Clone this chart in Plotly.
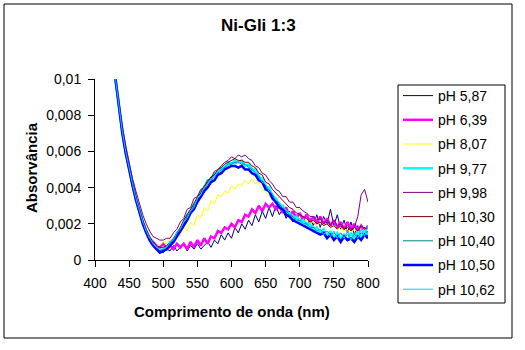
import plotly.graph_objects as go

# Wavelength grid (nm)
wavelength = [
    430, 435, 440, 445, 450, 455, 460, 465, 470, 475,
    480, 485, 490, 495, 500, 505, 510, 515, 520, 525,
    530, 535, 540, 545, 550, 555, 560, 565, 570, 575,
    580, 585, 590, 595, 600, 605, 610, 615, 620, 625,
    630, 635, 640, 645, 650, 655, 660, 665, 670, 675,
    680, 685, 690, 695, 700, 705, 710, 715, 720, 725,
    730, 735, 740, 745, 750, 755, 760, 765, 770, 775,
    780, 785, 790, 795, 800,
]

ph_5_87 = [
    0.0100, 0.0085, 0.0072, 0.0061, 0.0050, 0.0041, 0.0033, 0.0026, 0.0020, 0.0015,
    0.0011, 0.0008, 0.0006, 0.0005, 0.0004, 0.0006, 0.0005, 0.0008, 0.0005, 0.0007,
    0.0009, 0.0005, 0.0008, 0.0006, 0.0009, 0.0006, 0.0008, 0.0010, 0.0007, 0.0011,
    0.0009, 0.0014, 0.0011, 0.0015, 0.0012, 0.0018, 0.0015, 0.0020, 0.0017, 0.0022,
    0.0019, 0.0025, 0.0021, 0.0027, 0.0023, 0.0029, 0.0024, 0.0030, 0.0025, 0.0028,
    0.0023, 0.0027, 0.0021, 0.0025, 0.0020, 0.0024, 0.0018, 0.0023, 0.0019, 0.0025,
    0.0018, 0.0024, 0.0020, 0.0028, 0.0019, 0.0025, 0.0017, 0.0022, 0.0015, 0.0021,
    0.0014, 0.0019, 0.0012, 0.0018, 0.0013,
]
ph_6_39 = [
    0.0100, 0.0085, 0.0072, 0.0061, 0.0051, 0.0042, 0.0034, 0.0027, 0.0021, 0.0016,
    0.0012, 0.0010, 0.0008, 0.0007, 0.0009, 0.0006, 0.0008, 0.0006, 0.0009, 0.0007,
    0.0009, 0.0006, 0.0010, 0.0007, 0.0011, 0.0008, 0.0012, 0.0009, 0.0013, 0.0012,
    0.0016, 0.0015, 0.0018, 0.0017, 0.0020, 0.0018, 0.0022, 0.0021, 0.0025, 0.0024,
    0.0028, 0.0026, 0.0030, 0.0027, 0.0031, 0.0029, 0.0031, 0.0028, 0.0030, 0.0026,
    0.0029, 0.0024, 0.0027, 0.0023, 0.0026, 0.0022, 0.0025, 0.0021, 0.0024, 0.0020,
    0.0024, 0.0020, 0.0023, 0.0019, 0.0022, 0.0018, 0.0021, 0.0017, 0.0021, 0.0017,
    0.0020, 0.0016, 0.0019, 0.0016, 0.0019,
]
ph_8_07 = [
    0.0100, 0.0084, 0.0071, 0.0059, 0.0049, 0.0041, 0.0033, 0.0026, 0.0020, 0.0015,
    0.0011, 0.0009, 0.0008, 0.0008, 0.0010, 0.0009, 0.0012, 0.0010, 0.0014, 0.0013,
    0.0018, 0.0016, 0.0021, 0.0019, 0.0025, 0.0023, 0.0029, 0.0027, 0.0033, 0.0031,
    0.0036, 0.0035, 0.0038, 0.0037, 0.0041, 0.0039, 0.0042, 0.0041, 0.0044, 0.0042,
    0.0045, 0.0042, 0.0043, 0.0039, 0.0038, 0.0035, 0.0034, 0.0031, 0.0030, 0.0027,
    0.0027, 0.0025, 0.0025, 0.0023, 0.0023, 0.0021, 0.0022, 0.0019, 0.0022, 0.0018,
    0.0021, 0.0019, 0.0020, 0.0018, 0.0019, 0.0017, 0.0018, 0.0016, 0.0017, 0.0015,
    0.0017, 0.0015, 0.0016, 0.0015, 0.0017,
]
ph_9_77 = [
    0.0100, 0.0084, 0.0071, 0.0060, 0.0050, 0.0042, 0.0034, 0.0027, 0.0021, 0.0016,
    0.0012, 0.0009, 0.0006, 0.0005, 0.0006, 0.0006, 0.0010, 0.0010, 0.0015, 0.0016,
    0.0021, 0.0025, 0.0027, 0.0031, 0.0033, 0.0038, 0.0040, 0.0044, 0.0044, 0.0048,
    0.0048, 0.0051, 0.0051, 0.0054, 0.0053, 0.0055, 0.0054, 0.0055, 0.0052, 0.0053,
    0.0050, 0.0050, 0.0046, 0.0045, 0.0040, 0.0040, 0.0035, 0.0034, 0.0030, 0.0030,
    0.0026, 0.0026, 0.0023, 0.0024, 0.0021, 0.0022, 0.0019, 0.0020, 0.0016, 0.0018,
    0.0015, 0.0017, 0.0013, 0.0016, 0.0012, 0.0015, 0.0012, 0.0014, 0.0011, 0.0015,
    0.0012, 0.0016, 0.0012, 0.0017, 0.0014,
]
ph_9_98 = [
    0.0100, 0.0086, 0.0074, 0.0063, 0.0053, 0.0045, 0.0038, 0.0031, 0.0025, 0.0020,
    0.0016, 0.0013, 0.0012, 0.0011, 0.0011, 0.0012, 0.0012, 0.0015, 0.0017, 0.0021,
    0.0023, 0.0028, 0.0029, 0.0034, 0.0035, 0.0039, 0.0040, 0.0044, 0.0045, 0.0049,
    0.0050, 0.0052, 0.0054, 0.0055, 0.0057, 0.0056, 0.0058, 0.0057, 0.0058, 0.0056,
    0.0055, 0.0052, 0.0051, 0.0048, 0.0047, 0.0044, 0.0042, 0.0039, 0.0038, 0.0035,
    0.0035, 0.0032, 0.0032, 0.0029, 0.0029, 0.0027, 0.0026, 0.0024, 0.0024, 0.0022,
    0.0023, 0.0020, 0.0022, 0.0019, 0.0022, 0.0019, 0.0020, 0.0017, 0.0019, 0.0017,
    0.0018, 0.0024, 0.0036, 0.0039, 0.0032,
]
ph_10_30 = [
    0.0100, 0.0085, 0.0072, 0.0061, 0.0051, 0.0043, 0.0035, 0.0028, 0.0022, 0.0017,
    0.0013, 0.0010, 0.0008, 0.0007, 0.0007, 0.0008, 0.0010, 0.0012, 0.0015, 0.0018,
    0.0022, 0.0025, 0.0028, 0.0031, 0.0035, 0.0037, 0.0041, 0.0043, 0.0046, 0.0047,
    0.0050, 0.0051, 0.0053, 0.0054, 0.0055, 0.0056, 0.0055, 0.0055, 0.0054, 0.0054,
    0.0052, 0.0051, 0.0048, 0.0047, 0.0043, 0.0042, 0.0039, 0.0037, 0.0035, 0.0033,
    0.0031, 0.0029, 0.0028, 0.0026, 0.0025, 0.0024, 0.0023, 0.0021, 0.0022, 0.0020,
    0.0021, 0.0019, 0.0020, 0.0018, 0.0019, 0.0017, 0.0019, 0.0017, 0.0018, 0.0016,
    0.0018, 0.0016, 0.0019, 0.0017, 0.0018,
]
ph_10_40 = [
    0.0100, 0.0084, 0.0071, 0.0060, 0.0050, 0.0042, 0.0034, 0.0027, 0.0021, 0.0016,
    0.0012, 0.0009, 0.0007, 0.0005, 0.0006, 0.0007, 0.0009, 0.0012, 0.0014, 0.0018,
    0.0020, 0.0024, 0.0026, 0.0030, 0.0033, 0.0036, 0.0039, 0.0042, 0.0044, 0.0046,
    0.0048, 0.0050, 0.0051, 0.0053, 0.0053, 0.0054, 0.0054, 0.0053, 0.0053, 0.0051,
    0.0050, 0.0048, 0.0046, 0.0043, 0.0041, 0.0038, 0.0036, 0.0033, 0.0031, 0.0028,
    0.0027, 0.0025, 0.0024, 0.0022, 0.0022, 0.0020, 0.0020, 0.0018, 0.0018, 0.0016,
    0.0017, 0.0015, 0.0016, 0.0014, 0.0015, 0.0013, 0.0015, 0.0013, 0.0014, 0.0012,
    0.0014, 0.0013, 0.0015, 0.0014, 0.0016,
]
ph_10_50 = [
    0.0100, 0.0084, 0.0070, 0.0059, 0.0049, 0.0041, 0.0033, 0.0026, 0.0020, 0.0015,
    0.0011, 0.0008, 0.0006, 0.0004, 0.0005, 0.0006, 0.0008, 0.0010, 0.0013, 0.0016,
    0.0019, 0.0022, 0.0026, 0.0028, 0.0032, 0.0035, 0.0038, 0.0040, 0.0043, 0.0044,
    0.0047, 0.0048, 0.0050, 0.0051, 0.0052, 0.0052, 0.0051, 0.0052, 0.0050, 0.0050,
    0.0048, 0.0047, 0.0044, 0.0043, 0.0039, 0.0038, 0.0034, 0.0032, 0.0029, 0.0028,
    0.0025, 0.0024, 0.0022, 0.0021, 0.0020, 0.0019, 0.0018, 0.0017, 0.0016, 0.0015,
    0.0014, 0.0015, 0.0012, 0.0014, 0.0011, 0.0013, 0.0010, 0.0013, 0.0011, 0.0012,
    0.0010, 0.0013, 0.0011, 0.0014, 0.0012,
]
ph_10_62 = [
    0.0100, 0.0084, 0.0071, 0.0060, 0.0050, 0.0042, 0.0034, 0.0027, 0.0021, 0.0016,
    0.0012, 0.0009, 0.0007, 0.0006, 0.0006, 0.0007, 0.0010, 0.0011, 0.0015, 0.0017,
    0.0021, 0.0023, 0.0027, 0.0029, 0.0034, 0.0036, 0.0040, 0.0042, 0.0045, 0.0046,
    0.0049, 0.0049, 0.0052, 0.0052, 0.0054, 0.0053, 0.0054, 0.0054, 0.0053, 0.0052,
    0.0051, 0.0048, 0.0047, 0.0043, 0.0042, 0.0038, 0.0037, 0.0033, 0.0032, 0.0029,
    0.0028, 0.0025, 0.0025, 0.0022, 0.0023, 0.0020, 0.0021, 0.0018, 0.0019, 0.0016,
    0.0017, 0.0014, 0.0016, 0.0013, 0.0016, 0.0012, 0.0015, 0.0012, 0.0016, 0.0011,
    0.0015, 0.0012, 0.0017, 0.0013, 0.0019,
]

series_names = ["pH 5,87", "pH 6,39", "pH 8,07", "pH 9,77", "pH 9,98",
                "pH 10,30", "pH 10,40", "pH 10,50", "pH 10,62"]
series_values = [ph_5_87, ph_6_39, ph_8_07, ph_9_77, ph_9_98,
                 ph_10_30, ph_10_40, ph_10_50, ph_10_62]
series_colors = ["#000080", "#FF00FF", "#FFFF00", "#00FFFF", "#800080",
                 "#800000", "#008080", "#0000FF", "#00CCFF"]
series_widths = [1, 2.5, 1, 2.5, 1, 1, 1, 2.5, 1]

x_ticks = [400, 450, 500, 550, 600, 650, 700, 750, 800]
y_ticks = [0, 0.002, 0.004, 0.006, 0.008, 0.01]
y_ticklabels = ["0", "0,002", "0,004", "0,006", "0,008", "0,01"]

FONT = "Liberation Sans, Arial, sans-serif"

fig = go.Figure()
for name, vals, col, w in zip(series_names, series_values, series_colors, series_widths):
    fig.add_trace(go.Scatter(
        x=wavelength, y=vals, mode="lines", name=name, legendgroup=name,
        line=dict(color=col, width=w),
    ))

# plot area: x 95..368, y 79..260
L, R, T, B = 95, 368, 79, 260
W, H = R - L, B - T

def px(x):
    return (x - L) / W

def py(y):
    return (B - y) / H

fig.update_layout(
    width=525, height=350, autosize=False,
    margin=dict(l=L, r=525 - R, t=T, b=350 - B, pad=0),
    paper_bgcolor="white", plot_bgcolor="white",
    font=dict(family=FONT, size=14, color="black"),
    showlegend=True,
    legend=dict(
        x=px(398), y=py(80), xanchor="left", yanchor="top",
        borderwidth=0, bgcolor="rgba(0,0,0,0)",
        font=dict(family=FONT, size=14, color="black"),
        tracegroupgap=3, traceorder="grouped", maxheight=300,
    ),
    xaxis=dict(
        range=[400, 800], tickmode="array", tickvals=x_ticks,
        ticks="outside", ticklen=6, tickcolor="black", tickwidth=1,
        showline=True, linecolor="black", linewidth=1,
        showgrid=False, zeroline=False,
        tickfont=dict(family=FONT, size=14, color="black"),
        ticklabelstandoff=4,
    ),
    yaxis=dict(
        range=[0, 0.01], tickmode="array", tickvals=y_ticks, ticktext=y_ticklabels,
        ticks="outside", ticklen=6, tickcolor="black", tickwidth=1,
        showline=True, linecolor="black", linewidth=1,
        showgrid=False, zeroline=False,
        tickfont=dict(family=FONT, size=14, color="black"),
        ticklabelstandoff=4,
    ),
    annotations=[
        dict(text="<b>Ni-Gli 1:3</b>", xref="paper", yref="paper",
             x=px(258), y=py(26), xanchor="center", yanchor="middle",
             showarrow=False, font=dict(family=FONT, size=17, color="black")),
        dict(text="<b>Comprimento de onda (nm)</b>", xref="paper", yref="paper",
             x=px(231.5), y=py(311), xanchor="center", yanchor="middle",
             showarrow=False, font=dict(family=FONT, size=15, color="black")),
        dict(text="<b>Absorvância</b>", xref="paper", yref="paper",
             x=px(31), y=py(168), xanchor="center", yanchor="middle",
             textangle=-90, showarrow=False,
             font=dict(family=FONT, size=15, color="black")),
    ],
    shapes=[
        dict(type="rect", xref="paper", yref="paper",
             x0=px(4), x1=px(512), y0=py(338), y1=py(4),
             line=dict(color="black", width=1), fillcolor="rgba(0,0,0,0)",
             layer="below"),
        dict(type="rect", xref="paper", yref="paper",
             x0=px(398), x1=px(505), y0=py(303), y1=py(85),
             line=dict(color="black", width=1), fillcolor="rgba(0,0,0,0)",
             layer="below"),
    ],
)

fig.write_html("out.html")
